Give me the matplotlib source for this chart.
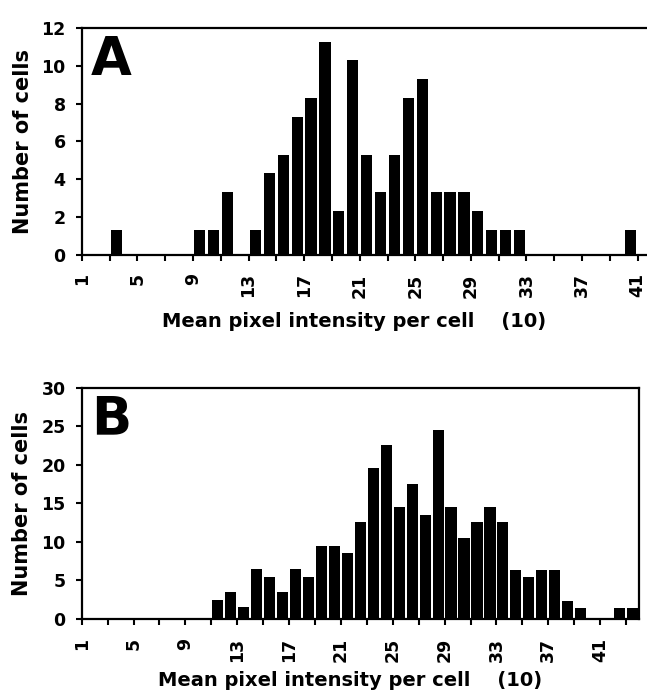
import matplotlib.pyplot as plt
import numpy as np

# Panel A: histogram bins (left edge of each bar) and bar heights
bins_a = [3, 9, 10, 11, 13, 14, 15, 16, 17, 18, 19, 20, 21, 22, 23, 24, 25,
          26, 27, 28, 29, 30, 31, 32, 40]
counts_a = [1.3, 1.3, 1.3, 3.3, 1.3, 4.3, 5.3, 7.3, 8.3, 11.3, 2.3, 10.3, 5.3,
            3.3, 5.3, 8.3, 9.3, 3.3, 3.3, 3.3, 2.3, 1.3, 1.3, 1.3, 1.3]

# Panel B
bins_b = list(range(11, 40)) + [42, 43]
counts_b = [2.5, 3.5, 1.5, 6.5, 5.5, 3.5, 6.5, 5.5, 9.5, 9.5, 8.5, 12.6, 19.6,
            22.6, 14.5, 17.5, 13.5, 24.5, 14.5, 10.5, 12.6, 14.5, 12.6, 6.4,
            5.4, 6.4, 6.4, 2.4, 1.4, 1.4, 1.4]

xlabel = 'Mean pixel intensity per cell    (10)'
ylabel = 'Number of cells'

plt.rcParams['font.family'] = 'DejaVu Sans'
plt.rcParams['font.weight'] = 'bold'

fig = plt.figure(figsize=(6.47, 6.96), dpi=100)
ax_a = fig.add_axes([0.1263, 0.6343, 0.8737, 0.3250])
ax_b = fig.add_axes([0.1263, 0.1106, 0.8613, 0.3324])


def style(ax, ymax, ystep, xmax, xtick_max, letter, bar_w, bins, counts, ylab_x):
    ax.bar(np.array(bins) + 0.5, counts, width=bar_w, color='black')
    ax.set_xlim(1, xmax)
    ax.set_ylim(0, ymax)
    ax.set_yticks(np.arange(0, ymax + 1, ystep))
    ax.set_xticks(np.arange(1, 42, 4))
    ax.set_xticks(np.arange(3, xtick_max + 1, 4), minor=True)
    ax.set_xticklabels([str(v) for v in range(1, 42, 4)], rotation=90,
                       fontsize=12.5, fontweight='bold', va='top')
    for t in ax.get_yticklabels():
        t.set_fontsize(12.5)
        t.set_fontweight('bold')
    ax.tick_params(axis='x', which='both', direction='out', length=4.5,
                   width=1.5, pad=9)
    ax.tick_params(axis='y', direction='out', length=4.5, width=1.5, pad=7)
    for s in ax.spines.values():
        s.set_linewidth(1.6)
    ax.set_ylabel(ylabel, fontsize=15, fontweight='bold')
    ax.yaxis.set_label_coords(ylab_x, 0.5)
    ax.set_xlabel(xlabel, fontsize=14, fontweight='bold')
    ax.text(0.016, 0.975, letter, transform=ax.transAxes, fontsize=38,
            fontweight='bold', ha='left', va='top')


style(ax_a, 12, 2, 41.67, 41, 'A', 0.8, bins_a, counts_a, -0.086)
ax_a.spines['right'].set_visible(False)
ax_a.xaxis.set_label_coords(0.481, -0.255)

style(ax_b, 30, 5, 44, 43, 'B', 0.86, bins_b, counts_b, -0.089)
ax_b.xaxis.set_label_coords(0.482, -0.225)

fig.savefig('out.png', dpi=100)
